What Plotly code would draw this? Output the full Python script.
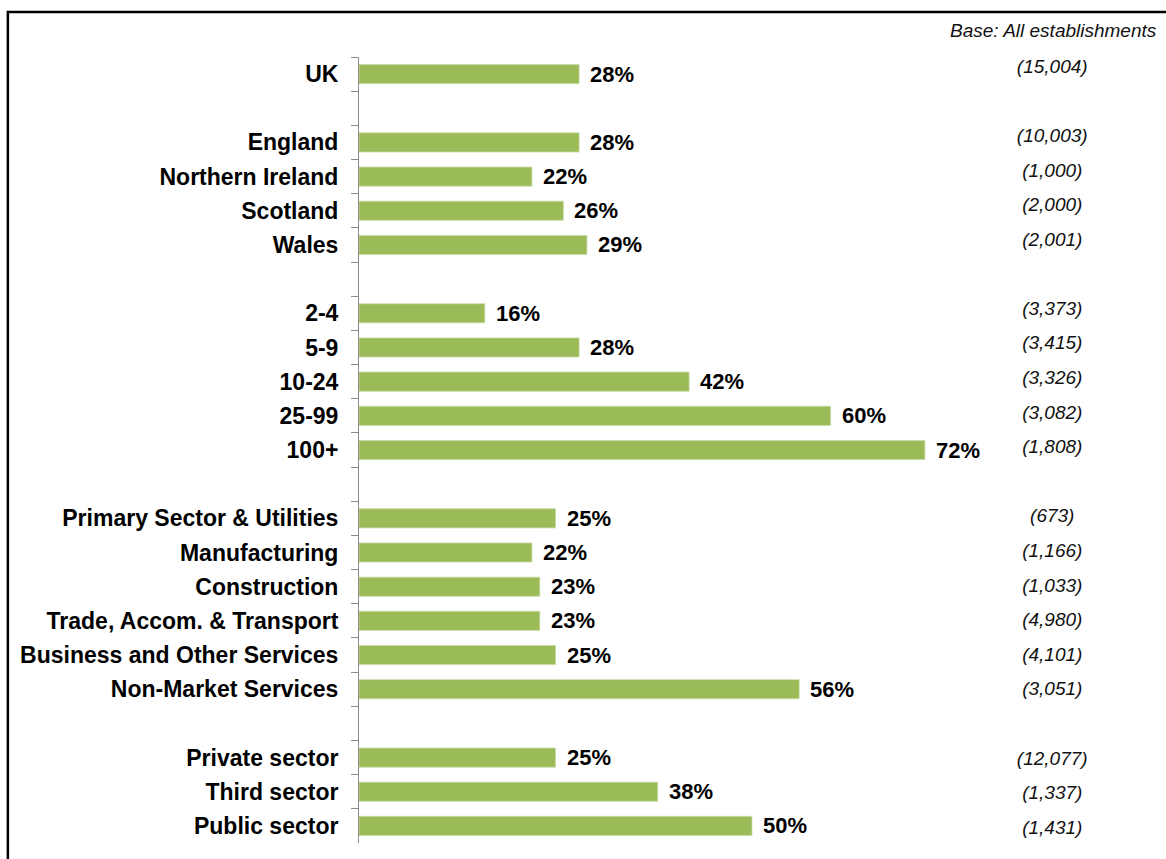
import plotly.graph_objects as go

# Rows from top to bottom; blank-named rows are spacer slots between groups
categories = [
    "UK", " ",
    "England", "Northern Ireland", "Scotland", "Wales", "  ",
    "2-4", "5-9", "10-24", "25-99", "100+", "   ",
    "Primary Sector & Utilities", "Manufacturing", "Construction",
    "Trade, Accom. & Transport", "Business and Other Services",
    "Non-Market Services", "    ",
    "Private sector", "Third sector", "Public sector",
]
values = [
    28, None,
    28, 22, 26, 29, None,
    16, 28, 42, 60, 72, None,
    25, 22, 23, 23, 25, 56, None,
    25, 38, 50,
]
bases = [
    "(15,004)", "",
    "(10,003)", "(1,000)", "(2,000)", "(2,001)", "",
    "(3,373)", "(3,415)", "(3,326)", "(3,082)", "(1,808)", "",
    "(673)", "(1,166)", "(1,033)", "(4,980)", "(4,101)", "(3,051)", "",
    "(12,077)", "(1,337)", "(1,431)",
]
base_title = "Base: All establishments"

W, H = 1166, 859
FONT = "Liberation Sans, Arial, sans-serif"
BAR_GREEN = "#9bbb59"
AXIS_GREY = "#8c8c8c"

# plot area in pixels
top_px, bot_px = 50, 847
left_px, right_px = 359, 1144.7
plot_h = bot_px - top_px


def frac(py):
    return (bot_px - py) / plot_h


fig = go.Figure()

fig.add_trace(go.Bar(
    x=values, y=categories, orientation="h",
    marker=dict(color=BAR_GREEN, line=dict(color="#c9dba6", width=0.8)),
    hoverinfo="skip", showlegend=False,
))

# base sizes in their own column, on a slightly taller row grid
fig.add_trace(go.Scatter(
    x=[88.2] * len(categories), y=categories, yaxis="y2",
    mode="text", text=bases, textposition="middle center",
    textfont=dict(family=FONT, size=19, color="#111111", style="italic"),
    hoverinfo="skip", showlegend=False,
))

for cat, v in zip(categories, values):
    if v is None:
        continue
    fig.add_annotation(
        x=v, y=cat, xref="x", yref="y", text=f"{v}%",
        showarrow=False, xanchor="left", yanchor="middle", xshift=9,
        font=dict(family=FONT, size=22, color="black", weight="bold"),
    )

fig.add_annotation(
    x=(1159 - left_px) / (right_px - left_px), y=frac(31),
    xref="paper", yref="paper", text=base_title, showarrow=False,
    xanchor="right", yanchor="middle",
    font=dict(family=FONT, size=19, color="#111111", style="italic"),
)

# outer frame, running off the right and bottom edges
fig.add_shape(
    type="rect", xref="paper", yref="paper",
    x0=(8 - left_px) / (right_px - left_px),
    x1=(1180 - left_px) / (right_px - left_px),
    y0=frac(880), y1=frac(12),
    line=dict(color="black", width=2.5), fillcolor="rgba(0,0,0,0)", layer="above",
)

fig.update_layout(
    width=W, height=H,
    margin=dict(l=left_px, r=W - right_px, t=top_px, b=H - bot_px, pad=0),
    paper_bgcolor="white", plot_bgcolor="rgba(0,0,0,0)",
    bargap=0.44,
    xaxis=dict(range=[0, 100], visible=False, fixedrange=True),
    yaxis=dict(
        type="category", categoryorder="array", categoryarray=categories,
        range=[len(categories) - 0.5, -0.5],
        domain=[frac(843), frac(57)],
        tickson="boundaries", ticks="outside", ticklen=7, tickwidth=1,
        tickcolor=AXIS_GREY, showline=True, linecolor=AXIS_GREY, linewidth=1,
        showgrid=False, zeroline=False, ticklabelstandoff=15,
        tickfont=dict(family=FONT, size=23, color="black", weight="bold"),
    ),
    yaxis2=dict(
        type="category", categoryorder="array", categoryarray=categories,
        range=[len(categories) - 0.5, -0.5],
        domain=[frac(846.3), frac(50.7)], anchor="x",
        visible=False,
    ),
)

fig.write_html("out.html")
